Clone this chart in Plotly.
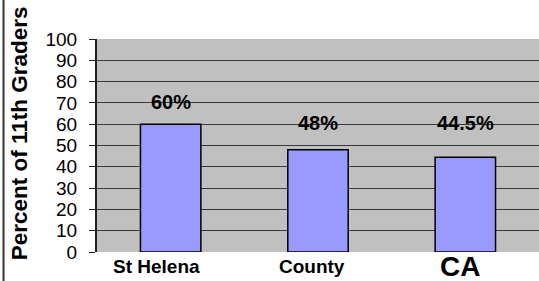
import plotly.graph_objects as go

categories = ["St Helena", "County", "CA"]
values = [60, 48, 44.5]
value_labels = ["60%", "48%", "44.5%"]
label_y = [70.4, 60.4, 60.4]
cat_label_sizes = [19, 19, 28]
cat_label_shift = [-14.5, -6.5, -5]
cat_label_vshift = [-14, -14, -14]
y_ticks = [0, 10, 20, 30, 40, 50, 60, 70, 80, 90, 100]

FONT = "Arial, Liberation Sans, sans-serif"

fig = go.Figure()
fig.add_trace(go.Bar(
    x=list(range(len(categories))), y=values, width=0.41,
    marker=dict(color="#9999FF", line=dict(color="#000000", width=1.5)),
))

for i, (lab, ly) in enumerate(zip(value_labels, label_y)):
    fig.add_annotation(x=i, y=ly, text=f"<b>{lab}</b>", showarrow=False,
                       font=dict(family=FONT, size=20, color="#000"),
                       xref="x", yref="y", yanchor="middle")

for i, (c, s, dx, dy) in enumerate(zip(categories, cat_label_sizes, cat_label_shift, cat_label_vshift)):
    fig.add_annotation(x=i, y=0, text=f"<b>{c}</b>", showarrow=False, xshift=dx,
                       yanchor="middle", yshift=dy,
                       font=dict(family=FONT, size=s, color="#000"),
                       xref="x", yref="y")

# y-axis title
fig.add_annotation(x=-0.175, y=0.556, xref="paper", yref="paper", text="<b>Percent of 11th Graders</b>",
                   textangle=-90, showarrow=False, xanchor="center", yanchor="middle",
                   font=dict(family=FONT, size=22.5, color="#000"))

fig.add_shape(type="line", xref="paper", yref="paper", x0=-0.2115, x1=-0.2115, y0=-0.14, y1=1.19,
              line=dict(color="#333", width=2))

fig.update_layout(
    width=539, height=281,
    margin=dict(l=97, r=0, t=39, b=29, autoexpand=False),
    paper_bgcolor="white", plot_bgcolor="#C0C0C0",
    showlegend=False,
    xaxis=dict(range=[-0.5, 2.5], showticklabels=False, showgrid=False, zeroline=False,
               showline=False, ticks="", automargin=False),
    yaxis=dict(range=[0, 100], tickvals=y_ticks, showgrid=True, gridcolor="#3a3a3a", gridwidth=1.3,
               zeroline=False, showline=True, linecolor="#222", linewidth=2,
               ticks="outside", ticklen=6, tickcolor="#222", tickwidth=1.3, automargin=False,
               ticklabelstandoff=8,
               tickfont=dict(family=FONT, size=19, color="#000")),
)

fig.write_html("out.html", config={"displayModeBar": False},
               post_script="document.body.style.margin='0';document.body.style.overflow='hidden';")
